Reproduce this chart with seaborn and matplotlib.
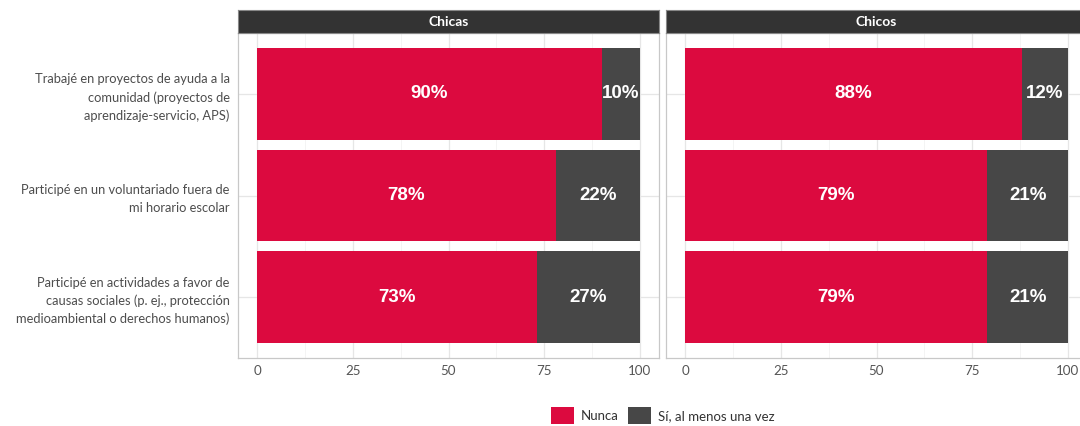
import matplotlib
matplotlib.use("Agg")
import matplotlib.pyplot as plt
from matplotlib.patches import Patch
import numpy as np
import pandas as pd
import seaborn as sns

# Survey items (y axis), top to bottom
categories = [
    "Trabajé en proyectos de ayuda a la\ncomunidad (proyectos de\naprendizaje-servicio, APS)",
    "Participé en un voluntariado fuera de\nmi horario escolar",
    "Participé en actividades a favor de\ncausas sociales (p. ej., protección\nmedioambiental o derechos humanos)",
]
panels = ["Chicas", "Chicos"]
responses = ["Nunca", "Sí, al menos una vez"]

chicas_nunca = [90, 78, 73]
chicas_si = [10, 22, 27]
chicos_nunca = [88, 79, 79]
chicos_si = [12, 21, 21]

x_ticks = [0, 25, 50, 75, 100]

RED = "#DC0A3F"
GREY = "#474747"
STRIP = "#333333"
TEXT_GREY = "#4d4d4d"

sns.set_theme(style="white")
plt.rcParams["font.family"] = ["Lato", "DejaVu Sans"]

W, H = 1080, 426
fig = plt.figure(figsize=(W / 100, H / 100), dpi=100)

def fx(px):
    return px / W

def fy(px):
    return 1 - px / H

panel_w = 421
panel_top, panel_bot = 33, 358
strip_top = 10
lefts = [238, 666]

data = {
    "Chicas": (chicas_nunca, chicas_si),
    "Chicos": (chicos_nunca, chicos_si),
}

for i, (name, left) in enumerate(zip(panels, lefts)):
    nunca, si = data[name]
    df = pd.DataFrame({
        "item": categories,
        "nunca": nunca,
        "total": np.array(nunca) + np.array(si),
    })
    ax = fig.add_axes([fx(left), fy(panel_bot), fx(panel_w),
                       (panel_bot - panel_top) / H])
    ax.set_facecolor("white")
    # stacked bars: full total in grey, "Nunca" share in red on top
    sns.barplot(data=df, x="total", y="item", order=categories, color=GREY,
                orient="h", width=0.9, linewidth=0, saturation=1, ax=ax, zorder=2)
    sns.barplot(data=df, x="nunca", y="item", order=categories, color=RED,
                orient="h", width=0.9, linewidth=0, saturation=1, ax=ax, zorder=3)

    for j, (n, s) in enumerate(zip(nunca, si)):
        ax.text(n / 2, j, f"{n}%", ha="center", va="center", color="white",
                fontsize=13.5, fontweight="bold", family="Liberation Sans", zorder=4)
        ax.text(n + s / 2, j, f"{s}%", ha="center", va="center", color="white",
                fontsize=13.5, fontweight="bold", family="Liberation Sans", zorder=4)

    ax.set_xlim(-5, 105)
    ax.set_ylim(2.6, -0.6)
    ax.set_xticks(x_ticks)
    ax.set_xticklabels([str(t) for t in x_ticks], fontsize=9.6, color="#555555")
    ax.set_xticks([12.5, 37.5, 62.5, 87.5], minor=True)
    ax.grid(True, which="major", axis="both", color="#e6e6e6", lw=0.9, zorder=0)
    ax.grid(True, which="minor", axis="x", color="#f0f0f0", lw=0.5, zorder=0)
    ax.set_axisbelow(True)
    ax.set_xlabel("")
    ax.set_ylabel("")
    for sp in ax.spines.values():
        sp.set_color("#c8c8c8")
        sp.set_linewidth(0.9)
    ax.tick_params(axis="x", which="major", length=3, color="#c8c8c8", pad=2)
    ax.tick_params(axis="x", which="minor", length=0)
    ax.set_yticks(range(len(categories)))
    if i == 0:
        ax.set_yticklabels(categories, fontsize=9.3, color=TEXT_GREY,
                           linespacing=1.55)
        ax.tick_params(axis="y", length=3, color="#c8c8c8", pad=3)
    else:
        ax.set_yticklabels([])
        ax.tick_params(axis="y", length=0)

    # facet strip
    sax = fig.add_axes([fx(left), fy(panel_top), fx(panel_w),
                        (panel_top - strip_top) / H])
    sax.set_facecolor(STRIP)
    sax.set_xticks([])
    sax.set_yticks([])
    for sp in sax.spines.values():
        sp.set_color("#888888")
        sp.set_linewidth(0.8)
    sax.text(0.5, 0.5, name, transform=sax.transAxes, ha="center", va="center",
             color="white", fontsize=10, fontweight="bold")

handles = [Patch(facecolor=RED, edgecolor="none", label=responses[0]),
           Patch(facecolor=GREY, edgecolor="none", label=responses[1])]
fig.legend(handles=handles, loc="upper center",
           bbox_to_anchor=(fx(663), fy(400)), ncol=2, frameon=False,
           fontsize=9.5, handlelength=1.7, handleheight=1.7, handletextpad=0.55,
           columnspacing=0.7, borderpad=0, labelcolor="#333333")

fig.savefig("out.png", dpi=100)
